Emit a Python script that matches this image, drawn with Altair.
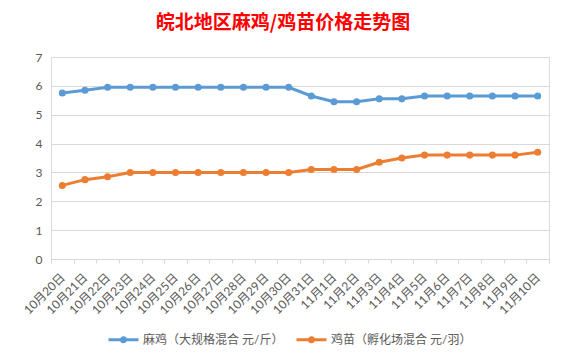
import altair as alt
import pandas as pd

dates = ["10月20日", "10月21日", "10月22日", "10月23日", "10月24日", "10月25日",
         "10月26日", "10月27日", "10月28日", "10月29日", "10月30日", "10月31日",
         "11月1日", "11月2日", "11月3日", "11月4日", "11月5日", "11月6日",
         "11月7日", "11月8日", "11月9日", "11月10日"]
maji = [5.75, 5.85, 5.95, 5.95, 5.95, 5.95, 5.95, 5.95, 5.95, 5.95, 5.95, 5.65,
        5.45, 5.45, 5.55, 5.55, 5.65, 5.65, 5.65, 5.65, 5.65, 5.65]
jimiao = [2.55, 2.75, 2.85, 3.0, 3.0, 3.0, 3.0, 3.0, 3.0, 3.0, 3.0, 3.1,
          3.1, 3.1, 3.35, 3.5, 3.6, 3.6, 3.6, 3.6, 3.6, 3.7]
series = ["麻鸡（大规格混合 元/斤）", "鸡苗（孵化场混合 元/羽）"]
colors = ["#5B9BD5", "#ED7D31"]

rows = []
for d, v in zip(dates, maji):
    rows.append({"date": d, "value": v, "series": series[0]})
for d, v in zip(dates, jimiao):
    rows.append({"date": d, "value": v, "series": series[1]})
df = pd.DataFrame(rows)

FONT = "Lato, 'Noto Sans CJK SC', sans-serif"
GRID = "#D9D9D9"
TXT = "#595959"

x = alt.X("date:N", sort=dates, title=None, bandPosition=0.5,
          scale=alt.Scale(type="band", paddingInner=0, paddingOuter=0),
          axis=alt.Axis(labelAngle=-45, labelAlign="right", labelBaseline="middle",
                        labelFontSize=12, labelColor=TXT, labelFont=FONT,
                        labelPadding=12, tickBand="extent", tickSize=4,
                        tickColor=GRID, domainColor=GRID, grid=False,
                        labelOverlap=False))
y = alt.Y("value:Q", title=None,
          scale=alt.Scale(domain=[0, 7], nice=False),
          axis=alt.Axis(values=[0, 1, 2, 3, 4, 5, 6, 7], ticks=False, domain=False,
                        labelFontSize=12, labelColor=TXT, labelFont=FONT,
                        labelPadding=9, gridColor=GRID, gridWidth=1))
color = alt.Color("series:N", sort=series,
                  scale=alt.Scale(domain=series, range=colors),
                  legend=alt.Legend(title=None, orient="none", direction="horizontal",
                                    legendX=56, legendY=266,
                                    symbolType="M-1,0L1,0M-0.133,0a0.133,0.133 0 1,0 0.267,0a0.133,0.133 0 1,0 -0.267,0",
                                    symbolSize=900, symbolStrokeWidth=3,
                                    labelFontSize=12, labelColor=TXT, labelFont=FONT,
                                    labelOffset=3, columnPadding=6))

base = alt.Chart(df).encode(x=x, y=y, color=color)
lines = base.mark_line(strokeWidth=3)
points = base.mark_point(filled=True, size=50, opacity=1)

chart = alt.layer(lines, points).properties(
    width=498, height=202,
    autosize="none",
    padding={"left": 43, "top": 49, "right": 7, "bottom": 89},
    title=alt.TitleParams("皖北地区麻鸡/鸡苗价格走势图", color="#FF0000", fontSize=19,
                          font="'Noto Sans CJK SC'", fontWeight="bold",
                          anchor="middle", frame="group", dx=-17, offset=18),
).configure_view(strokeWidth=0).configure(background="white")

chart.save("out.html", embed_options={"renderer": "svg", "actions": False})
